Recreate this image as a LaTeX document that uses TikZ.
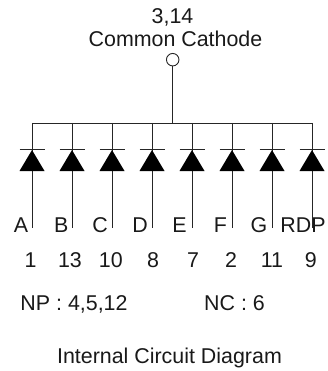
\documentclass[tikz,border=0pt]{standalone}
\usepackage{fontspec}
\setmainfont{Liberation Sans}
\begin{document}
\begin{tikzpicture}[x=1pt,y=-1pt,
  wire/.style={line width=0.9pt,draw=black!85},
  lbl/.style={inner sep=0pt,font=\fontsize{21.4}{24}\selectfont,text=black!90,anchor=base},
  led/.style={fill=black,draw=none}]
\useasboundingbox (0,0) rectangle (328,371);
\node[lbl] (pins) at (172.5,24) {3,14};
\node[lbl] (title) at (175.5,46.7) {Common Cathode};
\node[circle,draw=black!85,line width=0.9pt,fill=white,inner sep=0pt,minimum size=12.5pt] (com) at (172.7,59.7) {};
\coordinate (busj) at (172.7,123);
\coordinate (busl) at (32,123);
\coordinate (busr) at (312,123);
\draw[wire] (com) -- (busj);
\draw[wire] (busl) -- (busr);
\foreach \n/\x/\l/\p/\lx/\px in {a/32/A/1/21/30.7,b/72/B/13/61.3/70,c/112/C/10/100/110.8,d/152/D/8/140/153,e/192/E/7/179.5/193,f/232/F/2/220.5/231,g/272/G/11/259/272,h/312/RDP/9/303/310.7}{
  \coordinate (top\n) at (\x,123);
  \coordinate (cat\n) at (\x,149.5);
  \coordinate (bot\n) at (\x,227.5);
  \draw[wire] (top\n) -- (bot\n);
  \draw[wire] ([xshift=-12.5]cat\n) -- ([xshift=12.5]cat\n);
  \fill[led] (\x,150) -- (\x+12.5,171) -- (\x-12.5,171) -- cycle;
  \node[lbl] (seg\n) at (\lx,232.7) {\l};
  \node[lbl] (pin\n) at (\px,267.3) {\p};
}
\node[lbl] (np) at (74,310) {NP : 4,5,12};
\node[lbl] (nc) at (234.5,310) {NC : 6};
\node[lbl] (cap) at (169.5,363) {Internal Circuit Diagram};
\end{tikzpicture}
\end{document}
